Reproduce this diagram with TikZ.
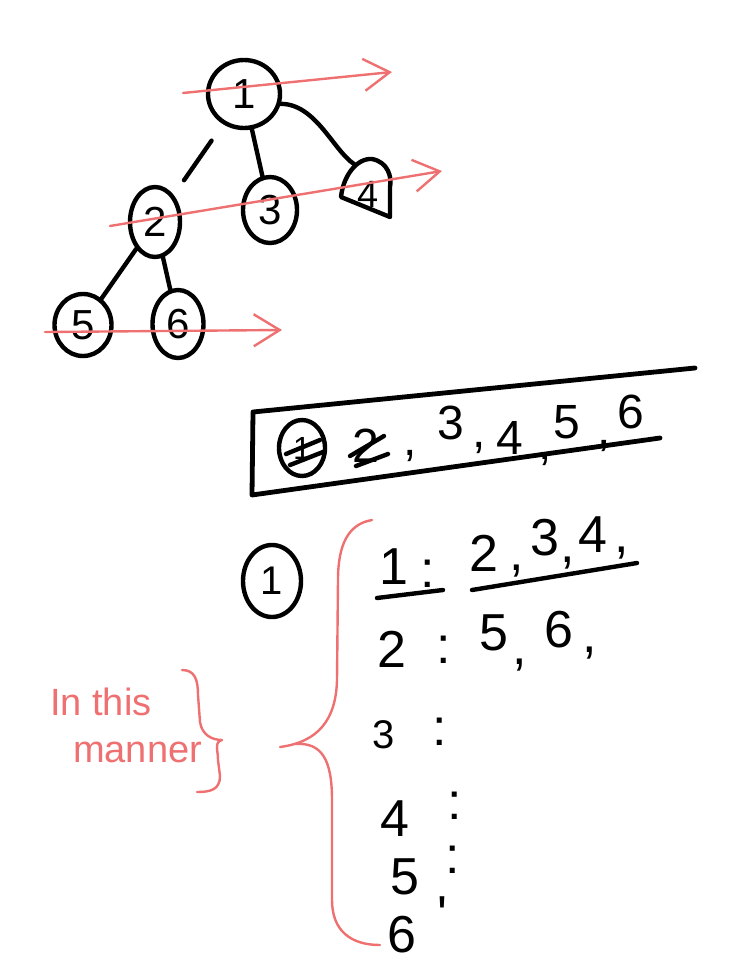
\documentclass[tikz,border=0pt]{standalone}
\usepackage{fontspec}
\setmainfont{Liberation Sans}
\usetikzlibrary{shapes.geometric,arrows.meta,calc}
\definecolor{pen}{RGB}{238,112,112}
\begin{document}
\begin{tikzpicture}[x=1pt,y=-1pt,
  inkline/.style={line width=4.4pt,line cap=round,line join=round},
  boxline/.style={line width=4.8pt,line cap=round,line join=round},
  redline/.style={draw=pen,line width=2.4pt,line cap=round,line join=round},
  treenode/.style={ellipse,draw,line width=4.4pt,inner sep=0pt,font=\fontsize{42}{42}\selectfont},
  tnum/.style={inner sep=0pt,font=\fontsize{38}{38}\selectfont},
  boxnum/.style={inner sep=0pt,font=\fontsize{48}{48}\selectfont},
  listnum/.style={inner sep=0pt,font=\fontsize{52}{52}\selectfont},
  redarrow/.style={redline,-{Straight Barb[length=26pt,width=32pt,line width=2.4pt]}},
  redtext/.style={text=pen,inner sep=0pt,font=\fontsize{38}{38}\selectfont}]
\useasboundingbox (0,0) rectangle (729,977);

% ---------- tree ----------
\node[treenode,minimum width=72pt,minimum height=68pt] (n1) at (244,94) {1};
\node[treenode,minimum width=50pt,minimum height=70pt] (n2) at (155,222) {2};
\node[treenode,minimum width=54pt,minimum height=66pt] (n3) at (270,210) {3};
\node[tnum] (n4) at (368,194) {4};
\draw[inkline] ($(n4)+(-27,3)$) .. controls ($(n4)+(-25,-17)$) and ($(n4)+(-12,-36)$) .. ($(n4)+(4,-35)$)
  .. controls ($(n4)+(20,-32)$) and ($(n4)+(24,-17)$) .. ($(n4)+(22,-7)$) -- ($(n4)+(22,23)$) -- cycle;
\node[treenode,minimum width=57pt,minimum height=62pt] (n5) at (83,325) {5};
\node[treenode,minimum width=51pt,minimum height=68pt] (n6) at (178,324) {6};

\draw[inkline,shorten <=20pt,shorten >=18pt] (n1) -- (n2);
\draw[inkline] (n1) -- (n3);
\draw[inkline] (n1.-15) .. controls ($(n1.-15)+(35,0)$) and ($(n4)+(-35,-44)$) .. ($(n4)+(-14,-30)$);
\draw[inkline] (n2) -- (n5);
\draw[inkline] (n2) -- (n6);

% ---------- red level arrows ----------
\coordinate (a1s) at (183,93);  \coordinate (a1e) at (392,72);
\coordinate (a2s) at (110,226); \coordinate (a2e) at (442,171);
\coordinate (a3s) at (45,332);  \coordinate (a3e) at (282,330);
\draw[redarrow] (a1s) -- (a1e);
\draw[redarrow] (a2s) -- (a2e);
\draw[redarrow] (a3s) -- (a3e);

% ---------- queue box ----------
\coordinate (b1) at (695,368);
\coordinate (b2) at (253,412);
\coordinate (b3) at (252,495);
\coordinate (b4) at (660,438);
\draw[boxline] (b1) -- (b2) -- (b3) -- (b4);

\node[ellipse,draw,line width=4.4pt,inner sep=0pt,minimum width=46pt,minimum height=56pt,
      font=\fontsize{32}{32}\selectfont] (q1) at (302,448) {1};
\draw[inkline] ($(q1)+(-16,6)$) -- ($(q1)+(18,-8)$);
\draw[inkline] ($(q1)+(-12,17)$) -- ($(q1)+(21,4)$);
\node[boxnum] (q2) at (366,446) {2};
\draw[inkline] ($(q2)+(-16,10)$) -- ($(q2)+(18,-10)$);
\draw[inkline] ($(q2)+(-10,20)$) -- ($(q2)+(22,8)$);
\node[boxnum] (qk1) at (410,456) {,};
\node[boxnum] (q3) at (451,423) {3};
\node[boxnum] (qk2) at (479,448) {,};
\node[boxnum] (q4) at (510,438) {4};
\node[boxnum] (qk3) at (545,460) {,};
\node[boxnum] (q5) at (567,422) {5};
\node[boxnum] (qk4) at (604,446) {,};
\node[boxnum] (q6) at (631,412) {6};

% ---------- adjacency list ----------
\node[ellipse,draw,line width=4.4pt,inner sep=0pt,minimum width=58pt,minimum height=72pt,
      font=\fontsize{40}{40}\selectfont] (c0) at (272,581) {1};

\node[listnum] (r1a) at (394,567) {1};
\node[listnum] (r1c) at (428,574) {:};
\node[listnum] (r1x) at (484,553) {2};
\node[listnum] (r1k1) at (517,571) {,};
\node[listnum] (r1y) at (545,538) {3};
\node[listnum] (r1k2) at (568,563) {,};
\node[listnum] (r1z) at (593,535) {4};
\node[listnum] (r1k3) at (622,553) {,};
\draw[inkline] (377,598) -- (443,590);
\draw[inkline] (472,590) -- (637,563);

\node[listnum] (r2a) at (392,649) {2};
\node[listnum] (r2c) at (444,650) {:};
\node[listnum] (r2x) at (494,633) {5};
\node[listnum] (r2k1) at (520,665) {,};
\node[listnum] (r2y) at (559,630) {6};
\node[listnum] (r2k2) at (590,653) {,};

\node[listnum,font=\fontsize{40}{40}\selectfont] (r3a) at (384,735) {3};
\node[listnum] (r3c) at (440,732) {:};
\node[listnum] (r4a) at (395,819) {4};
\node[listnum] (r4c) at (455,806) {:};
\node[listnum] (r5a) at (405,877) {5};
\node[listnum] (r5c) at (453,860) {:};
\node[listnum] (r6a) at (402,935) {6};
\node[listnum] (r6c) at (442,915) {\textquotesingle};

% ---------- red braces and note ----------
\draw[redline] (372,520) .. controls (348,524) and (338,545) .. (338,580) -- (337,680)
  .. controls (336,720) and (318,742) .. (280,747);
\draw[redline] (295,744) .. controls (322,742) and (332,760) .. (332,800) -- (332,900)
  .. controls (332,930) and (350,945) .. (380,945);

\node[redtext,anchor=west] (m1) at (50,702) {In this};
\node[redtext,anchor=west] (m2) at (73,752) {manner};
\draw[redline] (182,670) .. controls (195,670) and (198,680) .. (198,695) -- (200,722)
  .. controls (202,735) and (212,740) .. (222,740)
  .. controls (214,742) and (218,750) .. (218,760) -- (220,776)
  .. controls (220,790) and (210,792) .. (197,792);
\end{tikzpicture}
\end{document}
